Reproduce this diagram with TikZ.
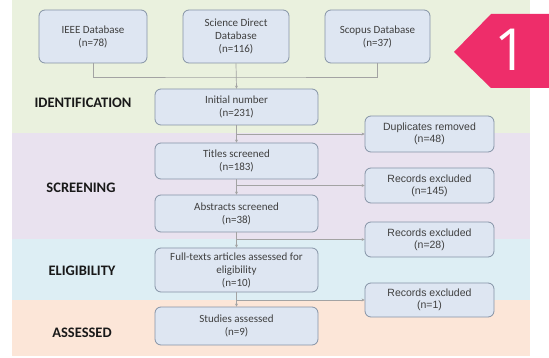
\documentclass[tikz,border=0pt]{standalone}
\usepackage{fontspec}
\setmainfont{Carlito}
\newfontfamily\arialfont{Liberation Sans}
\newfontfamily\digitfont{Open Sans}
\usetikzlibrary{arrows.meta}

\definecolor{bandgreen}{HTML}{EAF1DE}
\definecolor{bandpurple}{HTML}{E9E2EF}
\definecolor{bandblue}{HTML}{DDEEF4}
\definecolor{bandpeach}{HTML}{FCE6D8}
\definecolor{boxfill}{HTML}{DEE6F2}
\definecolor{boxline}{HTML}{8593A6}
\definecolor{linkgray}{HTML}{A3A3A3}
\definecolor{boxtext}{HTML}{3F3F3F}
\definecolor{tagpink}{HTML}{EE2D6A}

\tikzset{
  flowbox/.style={draw=boxline, fill=boxfill, line width=0.8pt, rounded corners=6pt,
    align=center, inner sep=2pt, text=boxtext,
    font=\fontsize{11}{13}\selectfont},
  sidebox/.style={flowbox, font=\arialfont\fontsize{10.5}{12}\selectfont},
  stagelabel/.style={font=\bfseries\fontsize{14.5}{16}\selectfont, text=black!90, inner sep=0pt},
  link/.style={draw=linkgray, line width=0.7pt},
  linkarrow/.style={link, -{Stealth[length=3pt,width=3pt]}}
}

\begin{document}
\begin{tikzpicture}[x=1pt, y=-1pt]
\useasboundingbox (0,0) rectangle (549,358);
\fill[white] (0,0) rectangle (549,358);

% stage bands
\fill[bandgreen]  (12,0)   rectangle (530,133);
\fill[bandpurple] (12,133) rectangle (530,239);
\fill[bandblue]   (12,239) rectangle (530,300);
\fill[bandpeach]  (12,300) rectangle (530,356);

% stage tag
\fill[tagpink] (454,52) -- (491,14) -- (549,14) -- (549,88) -- (491,88) -- cycle;
\node[text=white, font=\digitfont\fontsize{58}{58}\selectfont, inner sep=0pt] (tag) at (511,50) {1};

% stage labels
\node[stagelabel] (lid)  at (83,103) {IDENTIFICATION};
\node[stagelabel] (lscr) at (81,188) {SCREENING};
\node[stagelabel] (lel)  at (82,271) {ELIGIBILITY};
\node[stagelabel] (las)  at (82,333) {ASSESSED};

% source databases
\node[flowbox, minimum width=108pt, minimum height=53pt] (ieee)   at (93,36.5)    {IEEE Database\\(n=78)};
\node[flowbox, minimum width=106pt, minimum height=53pt] (sd)     at (236,36.5)   {Science Direct\\Database\\(n=116)};
\node[flowbox, minimum width=105pt, minimum height=53pt] (scopus) at (377.5,36.5) {Scopus Database\\(n=37)};

% main flow
\node[flowbox, minimum width=163pt, minimum height=36pt] (init)    at (236.5,107) {Initial number\\(n=231)};
\node[flowbox, minimum width=163pt, minimum height=36pt] (titles)  at (236.5,161) {Titles screened\\(n=183)};
\node[flowbox, minimum width=163pt, minimum height=37pt] (abs)     at (236.5,213.5) {Abstracts screened\\(n=38)};
\node[flowbox, minimum width=163pt, minimum height=44pt] (full)    at (236.5,270) {Full-texts articles assessed for\\eligibility\\(n=10)};
\node[flowbox, minimum width=163pt, minimum height=38pt] (studies) at (236.5,326) {Studies assessed\\(n=9)};

% exclusions
\node[sidebox, minimum width=129pt, minimum height=36pt] (dup)    at (429.5,134)   {Duplicates removed\\(n=48)};
\node[sidebox, minimum width=129pt, minimum height=35pt] (rec145) at (429.5,185.5) {Records excluded\\(n=145)};
\node[sidebox, minimum width=129pt, minimum height=35pt] (rec28)  at (429.5,239.5) {Records excluded\\(n=28)};
\node[sidebox, minimum width=129pt, minimum height=34pt] (rec1)   at (429.5,300)   {Records excluded\\(n=1)};

% merge of the database searches
\coordinate (merge) at (236,77);
\draw[link] (ieee.south) |- (merge) -| (scopus.south);
\draw[linkarrow] (sd.south) -- (init.north);

% main vertical flow
\draw[linkarrow] (init.south) -- (titles.north);
\draw[linkarrow] (titles.south) -- (abs.north);
\draw[linkarrow] (abs.south) -- (full.north);
\draw[linkarrow] (full.south) -- (studies.north);

% side branches to the exclusions
\draw[linkarrow] (init.south |- dup.west) -- (dup.west);
\draw[linkarrow] (titles.south |- rec145.west) -- (rec145.west);
\draw[linkarrow] (abs.south |- rec28.west) -- (rec28.west);
\draw[linkarrow] (full.south |- rec1.west) -- (rec1.west);
\end{tikzpicture}
\end{document}
